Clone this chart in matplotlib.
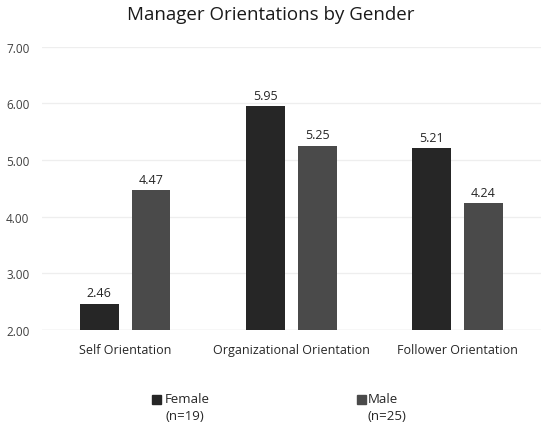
import matplotlib
matplotlib.use("Agg")
import matplotlib.pyplot as plt
from matplotlib.patches import Rectangle
import numpy as np

categories = ["Self Orientation", "Organizational Orientation", "Follower Orientation"]
female = [2.46, 5.95, 5.21]
male = [4.47, 5.25, 4.24]
series_names = ["Female", "Male"]
series_notes = ["(n=19)", "(n=25)"]
yticks = [2.0, 3.0, 4.0, 5.0, 6.0, 7.0]

plt.rcParams['font.family'] = ['Open Sans', 'DejaVu Sans']

W, H = 542, 431
fig = plt.figure(figsize=(W / 100, H / 100), dpi=100)
ax = fig.add_axes([0.0775, 0.232, 0.92, 0.657])

x = np.arange(len(categories))
w = 0.234
off = 0.156
c_f = "#262626"
c_m = "#4a4a4a"
b1 = ax.bar(x - off, female, w, color=c_f, zorder=3)
b2 = ax.bar(x + off, male, w, color=c_m, zorder=3)

for bars, vals in ((b1, female), (b2, male)):
    for r, v in zip(bars, vals):
        ax.text(r.get_x() + r.get_width() / 2, v + 0.08, f"{v:.2f}",
                ha="center", va="bottom", fontsize=9, color="#262626")

ax.set_ylim(2, 7)
ax.set_xlim(-0.5, 2.5)
ax.set_yticks(yticks)
ax.set_yticklabels([f"{t:.2f}" for t in yticks], fontsize=8.5, color="#404040")
ax.set_xticks(x)
ax.set_xticklabels(categories, fontsize=9, color="#262626")
ax.tick_params(axis="both", length=0)
ax.tick_params(axis="x", pad=9)
ax.tick_params(axis="y", pad=9)
ax.grid(axis="y", color="#eeeeee", linewidth=0.9, zorder=0)
for s in ax.spines.values():
    s.set_visible(False)
ax.axhline(2, color="#d9d9d9", linewidth=0.9, zorder=2)

fig.text(0.5, 1 - 15 / H, "Manager Orientations by Gender", ha="center", va="center",
         fontsize=13.5, color="#1a1a1a")

# legend (manual, two lines per entry)
leg_pos = [(152, 165), (357, 368)]
for (sx, tx), name, note, col in zip(leg_pos, series_names, series_notes, (c_f, c_m)):
    fig.add_artist(Rectangle((sx / W, 1 - 405 / H), 9 / W, 9 / H,
                             transform=fig.transFigure, color=col))
    fig.text(tx / W, 1 - 400 / H, name, ha="left", va="center", fontsize=9.5, color="#262626")
    fig.text(tx / W, 1 - 417 / H, note, ha="left", va="center", fontsize=9.5, color="#262626")

fig.savefig("out.png", dpi=100)
